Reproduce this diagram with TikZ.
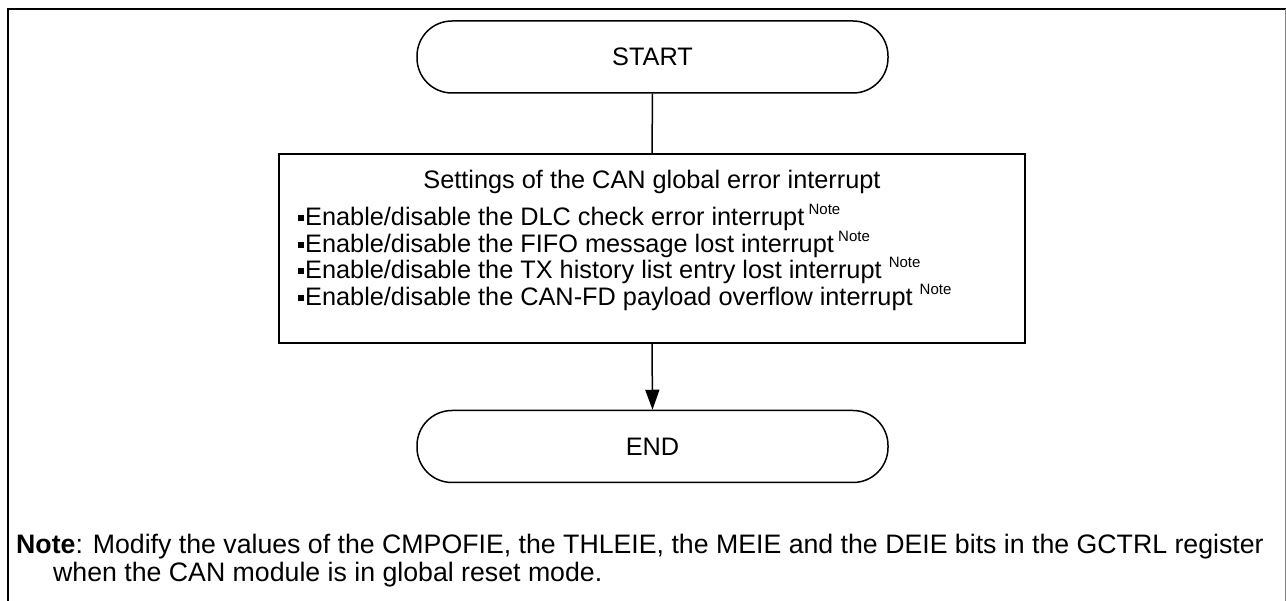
\documentclass[tikz,border=0pt]{standalone}
\usepackage{fontspec}
\setmainfont{Liberation Sans}
\usetikzlibrary{arrows.meta}
\newcommand\sqbul{\rule[5pt]{6pt}{6pt}\hspace{1pt}}
\newcommand\supnote{\raisebox{11pt}{\fontsize{15}{15}\selectfont Note}}
\begin{document}
\begin{tikzpicture}[x=1pt,y=-1pt,
  term/.style={draw, line width=1.5pt, rounded corners=35pt, minimum width=471pt, minimum height=72pt, inner sep=0pt, font=\fontsize{25.3}{29}\selectfont},
  procbox/.style={draw, line width=1.5pt, minimum width=746pt, minimum height=189pt, inner sep=0pt},
  txt/.style={inner sep=0pt, font=\fontsize{25.3}{29}\selectfont},
  notetxt/.style={inner sep=0pt, font=\fontsize{26.7}{30}\selectfont},
  flow/.style={line width=1.5pt},
  framel/.style={line width=2.4pt}]
\useasboundingbox (0,0) rectangle (1286,601);
% frame
\draw[framel] (8,601) -- (8,9) -- (1286,9);
\draw[gray, line width=1pt] (1285,9) -- (1285,601);
% nodes
\node[term] (start) at (652.5,57) {START};
\node[procbox] (set) at (652,248.5) {};
\node[term] (end) at (652.5,446.5) {END};
\node[txt, anchor=base] (t0) at (652,189) {Settings of the CAN global error interrupt};
\node[txt, anchor=base west] (t1) at (298,226) {\sqbul Enable/disable the DLC check error interrupt\,\supnote};
\node[txt, anchor=base west] (t2) at (298,253) {\sqbul Enable/disable the FIFO message lost interrupt\,\supnote};
\node[txt, anchor=base west] (t3) at (298,279) {\sqbul Enable/disable the TX history list entry lost interrupt \supnote};
\node[txt, anchor=base west] (t4) at (298,306) {\sqbul Enable/disable the CAN-FD payload overflow interrupt \supnote};
\node[notetxt, anchor=base west] (n1) at (16,554) {\textbf{Note}: Modify the values of the CMPOFIE, the THLEIE, the MEIE and the DEIE bits in the GCTRL register};
\node[notetxt, anchor=base west] (n2) at (53,581) {when the CAN module is in global reset mode.};
% connectors
\draw[flow] (start.south) -- (set.north);
\draw[flow, -{Triangle[width=14pt,length=20pt]}] (set.south) -- (end.north);
\end{tikzpicture}
\end{document}
